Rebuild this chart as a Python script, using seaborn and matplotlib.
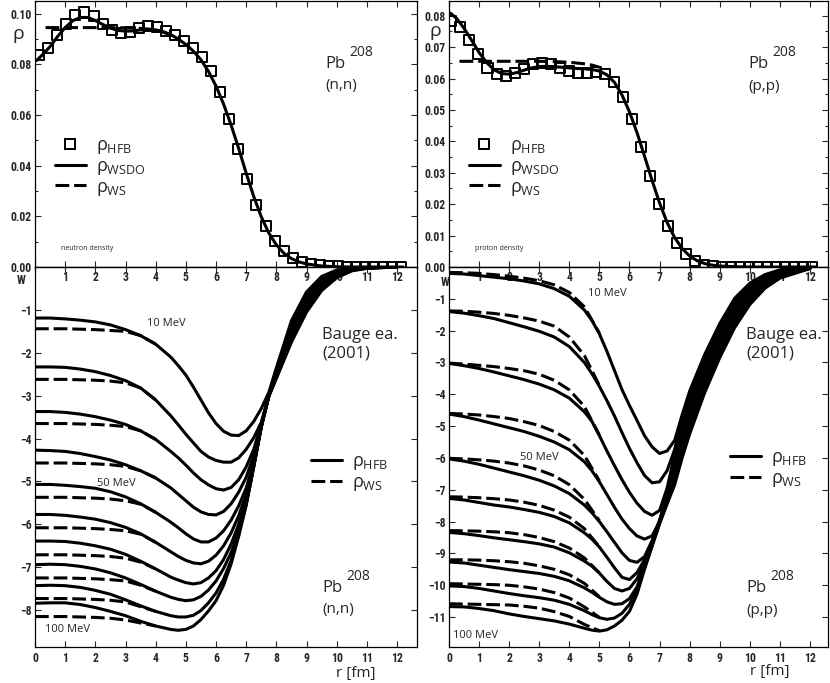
import matplotlib
matplotlib.use("Agg")
import matplotlib.pyplot as plt
from matplotlib import font_manager
from matplotlib.lines import Line2D
from matplotlib.ticker import FormatStrFormatter, MultipleLocator
import pandas as pd
import seaborn as sns

# ---------------- data ----------------
energies = [10, 20, 30, 40, 50, 60, 70, 80, 90, 100]

# radial grid (fm) for the imaginary potentials W(r)
r_w = [0, 0.5, 1, 1.5, 2, 2.5, 3, 3.5, 4, 4.5, 4.75, 5, 5.25, 5.5, 5.75, 6,
       6.25, 6.5, 6.75, 7, 7.25, 7.5, 7.75, 8, 8.5, 9, 9.5, 10, 10.5, 11, 12]

# (n,n): W with HFB density, one row per energy (10..100 MeV)
w_n_hfb = [
    [-1.19, -1.19, -1.21, -1.24, -1.28, -1.35, -1.46, -1.6, -1.8, -2.1, -2.3, -2.52, -2.8, -3.1, -3.4, -3.65, -3.83, -3.92, -3.93, -3.82, -3.6, -3.3, -2.92, -2.35, -1.25, -0.58, -0.22, -0.07, -0.02, 0.0, 0.0],
    [-2.33, -2.33, -2.34, -2.38, -2.44, -2.53, -2.65, -2.82, -3.1, -3.47, -3.68, -3.9, -4.1, -4.3, -4.43, -4.51, -4.55, -4.55, -4.45, -4.25, -3.98, -3.62, -3.0, -2.38, -1.31, -0.63, -0.26, -0.09, -0.03, 0.0, 0.0],
    [-3.37, -3.37, -3.39, -3.43, -3.49, -3.57, -3.67, -3.82, -4.02, -4.3, -4.45, -4.62, -4.8, -4.96, -5.08, -5.17, -5.2, -5.14, -4.96, -4.66, -4.25, -3.65, -3.0, -2.41, -1.36, -0.68, -0.29, -0.11, -0.04, -0.01, 0.0],
    [-4.27, -4.28, -4.3, -4.35, -4.42, -4.5, -4.61, -4.75, -4.92, -5.15, -5.3, -5.45, -5.6, -5.71, -5.77, -5.78, -5.7, -5.52, -5.25, -4.9, -4.4, -3.68, -3.0, -2.43, -1.42, -0.74, -0.33, -0.13, -0.04, -0.01, 0.0],
    [-5.07, -5.07, -5.09, -5.12, -5.16, -5.24, -5.36, -5.52, -5.72, -5.95, -6.08, -6.22, -6.34, -6.41, -6.41, -6.32, -6.15, -5.9, -5.57, -5.15, -4.55, -3.7, -3.0, -2.46, -1.47, -0.79, -0.37, -0.15, -0.05, -0.01, 0.0],
    [-5.77, -5.77, -5.79, -5.83, -5.88, -5.96, -6.07, -6.22, -6.42, -6.64, -6.75, -6.84, -6.9, -6.92, -6.86, -6.72, -6.5, -6.2, -5.8, -5.3, -4.6, -3.72, -3.0, -2.49, -1.53, -0.84, -0.4, -0.17, -0.06, -0.02, 0.0],
    [-6.39, -6.39, -6.4, -6.44, -6.5, -6.58, -6.7, -6.86, -7.04, -7.23, -7.3, -7.36, -7.39, -7.36, -7.25, -7.08, -6.82, -6.46, -6.0, -5.42, -4.62, -3.72, -3.0, -2.52, -1.58, -0.89, -0.44, -0.19, -0.07, -0.02, 0.0],
    [-6.94, -6.93, -6.94, -6.98, -7.04, -7.13, -7.25, -7.4, -7.56, -7.7, -7.75, -7.78, -7.76, -7.68, -7.53, -7.32, -7.03, -6.66, -6.15, -5.5, -4.64, -3.72, -3.0, -2.54, -1.64, -0.95, -0.48, -0.21, -0.07, -0.02, 0.0],
    [-7.43, -7.42, -7.43, -7.47, -7.54, -7.63, -7.76, -7.9, -8.03, -8.13, -8.16, -8.16, -8.12, -8.01, -7.83, -7.6, -7.28, -6.84, -6.24, -5.54, -4.65, -3.72, -3.0, -2.57, -1.69, -1.0, -0.51, -0.23, -0.08, -0.03, 0.0],
    [-7.84, -7.83, -7.83, -7.87, -7.94, -8.03, -8.13, -8.26, -8.37, -8.45, -8.47, -8.45, -8.37, -8.22, -8.02, -7.78, -7.42, -6.92, -6.28, -5.55, -4.66, -3.73, -3.02, -2.6, -1.75, -1.05, -0.55, -0.25, -0.09, -0.03, 0.0],
]
# (n,n): W with WS density (only the inner part differs)
r_ws_n = [0, 0.5, 1, 1.5, 2, 2.5, 3, 3.5, 4]
w_n_ws = [
    [-1.44, -1.44, -1.44, -1.45, -1.46, -1.48, -1.5, -1.6, -1.8],
    [-2.62, -2.62, -2.62, -2.63, -2.64, -2.66, -2.7, -2.82, -3.1],
    [-3.65, -3.65, -3.65, -3.66, -3.67, -3.69, -3.72, -3.82, -4.02],
    [-4.57, -4.57, -4.57, -4.58, -4.59, -4.61, -4.65, -4.75, -4.92],
    [-5.37, -5.37, -5.37, -5.38, -5.39, -5.41, -5.45, -5.53, -5.72],
    [-6.08, -6.08, -6.08, -6.09, -6.1, -6.12, -6.15, -6.23, -6.42],
    [-6.71, -6.71, -6.71, -6.72, -6.73, -6.75, -6.79, -6.88, -7.04],
    [-7.25, -7.25, -7.25, -7.26, -7.27, -7.29, -7.32, -7.42, -7.56],
    [-7.73, -7.73, -7.73, -7.74, -7.75, -7.77, -7.81, -7.92, -8.03],
    [-8.15, -8.15, -8.15, -8.16, -8.17, -8.19, -8.23, -8.3, -8.37],
]

# (p,p): W with HFB density
w_p_hfb = [
    [-0.2, -0.22, -0.27, -0.32, -0.37, -0.44, -0.53, -0.68, -0.92, -1.35, -1.68, -2.1, -2.65, -3.25, -3.85, -4.35, -4.82, -5.3, -5.65, -5.86, -5.78, -5.45, -4.65, -3.9, -2.75, -1.78, -0.98, -0.51, -0.24, -0.09, 0.0],
    [-1.4, -1.45, -1.53, -1.62, -1.75, -1.88, -2.02, -2.2, -2.5, -3.0, -3.35, -3.75, -4.2, -4.68, -5.2, -5.7, -6.15, -6.55, -6.78, -6.75, -6.4, -5.74, -4.76, -4.05, -2.88, -1.9, -1.08, -0.58, -0.29, -0.12, -0.01],
    [-3.03, -3.1, -3.19, -3.3, -3.42, -3.54, -3.68, -3.86, -4.12, -4.55, -4.85, -5.3, -5.78, -6.24, -6.68, -7.08, -7.42, -7.68, -7.8, -7.65, -6.95, -5.9, -4.91, -4.2, -3.02, -2.02, -1.18, -0.66, -0.34, -0.15, -0.01],
    [-4.62, -4.7, -4.81, -4.93, -5.05, -5.17, -5.32, -5.5, -5.74, -6.12, -6.4, -6.75, -7.15, -7.55, -7.92, -8.22, -8.45, -8.55, -8.45, -8.0, -7.1, -6.02, -5.07, -4.35, -3.15, -2.14, -1.29, -0.73, -0.38, -0.18, -0.02],
    [-6.03, -6.1, -6.2, -6.32, -6.44, -6.56, -6.7, -6.88, -7.12, -7.48, -7.72, -8.0, -8.32, -8.65, -8.98, -9.22, -9.28, -9.1, -8.6, -7.95, -7.2, -6.16, -5.22, -4.5, -3.28, -2.26, -1.39, -0.81, -0.43, -0.21, -0.02],
    [-7.27, -7.32, -7.4, -7.48, -7.54, -7.62, -7.71, -7.84, -8.04, -8.35, -8.55, -8.8, -9.12, -9.45, -9.75, -9.82, -9.6, -9.2, -8.65, -8.0, -7.3, -6.29, -5.38, -4.65, -3.42, -2.37, -1.49, -0.88, -0.48, -0.23, -0.03],
    [-8.34, -8.38, -8.44, -8.51, -8.57, -8.63, -8.7, -8.8, -8.98, -9.24, -9.4, -9.62, -9.88, -10.1, -10.18, -10.1, -9.8, -9.3, -8.7, -8.02, -7.35, -6.43, -5.53, -4.8, -3.55, -2.49, -1.59, -0.96, -0.53, -0.26, -0.03],
    [-9.27, -9.3, -9.37, -9.44, -9.51, -9.57, -9.63, -9.72, -9.86, -10.08, -10.22, -10.38, -10.52, -10.6, -10.58, -10.42, -10.05, -9.42, -8.74, -8.04, -7.38, -6.57, -5.69, -4.95, -3.68, -2.61, -1.7, -1.03, -0.57, -0.29, -0.04],
    [-10.02, -10.04, -10.1, -10.18, -10.26, -10.33, -10.39, -10.47, -10.6, -10.8, -10.92, -11.02, -11.07, -11.03, -10.88, -10.6, -10.15, -9.45, -8.75, -8.05, -7.4, -6.71, -5.84, -5.1, -3.82, -2.73, -1.8, -1.11, -0.62, -0.32, -0.04],
    [-10.67, -10.68, -10.73, -10.8, -10.9, -10.98, -11.05, -11.12, -11.22, -11.35, -11.41, -11.44, -11.4, -11.28, -11.1, -10.82, -10.28, -9.5, -8.78, -8.07, -7.45, -6.85, -6.0, -5.25, -3.95, -2.85, -1.9, -1.18, -0.67, -0.35, -0.05],
]
r_ws_p = [0, 0.5, 1, 1.5, 2, 2.5, 3, 3.5, 4, 4.5, 5]
w_p_ws = [
    [-0.17, -0.18, -0.2, -0.24, -0.29, -0.35, -0.43, -0.56, -0.8, -1.25, -2.08],
    [-1.38, -1.39, -1.42, -1.46, -1.52, -1.6, -1.7, -1.86, -2.2, -2.78, -3.72],
    [-3.02, -3.05, -3.09, -3.13, -3.19, -3.26, -3.37, -3.56, -3.86, -4.38, -5.28],
    [-4.6, -4.62, -4.65, -4.7, -4.76, -4.86, -4.98, -5.17, -5.44, -5.92, -6.72],
    [-6.01, -6.03, -6.06, -6.1, -6.16, -6.25, -6.38, -6.56, -6.84, -7.3, -7.97],
    [-7.22, -7.23, -7.25, -7.28, -7.32, -7.39, -7.49, -7.64, -7.86, -8.22, -8.79],
    [-8.28, -8.29, -8.3, -8.32, -8.35, -8.41, -8.5, -8.63, -8.83, -9.14, -9.61],
    [-9.2, -9.2, -9.21, -9.23, -9.26, -9.31, -9.39, -9.5, -9.67, -9.94, -10.36],
    [-9.95, -9.96, -9.97, -9.98, -10.0, -10.05, -10.12, -10.23, -10.4, -10.68, -11.01],
    [-10.58, -10.59, -10.6, -10.61, -10.62, -10.66, -10.72, -10.83, -10.98, -11.23, -11.43],
]

# densities (fm^-3)
r_hfb_n = [0.14, 0.44, 0.74, 1.04, 1.34, 1.64, 1.94, 2.24, 2.54, 2.84, 3.14, 3.44, 3.74, 4.04,
           4.34, 4.64, 4.94, 5.24, 5.54, 5.84, 6.14, 6.44, 6.74, 7.04, 7.34, 7.64, 7.94, 8.24,
           8.54, 8.84, 9.14, 9.44, 9.74, 10.04, 10.34, 10.64, 10.94, 11.24, 11.54, 11.84, 12.14]
rho_n_hfb = [.0835, .0864, .0914, .096, .0996, .1006, .0989, .096, .0936, .0924, .0929, .0942, .095, .0946,
             .0933, .0914, .0891, .0865, .0828, .0773, .069, .0585, .0467, .0349, .0243, .016, .0103, .0063,
             .0037, .002, .0011, .0006, .0003, .0002, .0001, 0, 0, 0, 0, 0, 0]
r_hfb_p = [0.08, 0.38, 0.68, 0.98, 1.28, 1.58, 1.88, 2.18, 2.48, 2.78, 3.08, 3.38, 3.68, 3.98,
           4.28, 4.58, 4.88, 5.18, 5.48, 5.78, 6.08, 6.38, 6.68, 6.98, 7.28, 7.58, 7.88, 8.18,
           8.48, 8.78, 9.08, 9.38, 9.68, 9.98, 10.28, 10.58, 10.88, 11.18, 11.48, 11.78, 12.08]
rho_p_hfb = [.0784, .0765, .0723, .0677, .0634, .0614, .0608, .0618, .0632, .0645, .065, .0645, .0634, .0625,
             .0618, .0618, .0621, .0616, .059, .0542, .0471, .0382, .029, .0202, .0131, .0077, .0041, .0018,
             .0006, .0003, .0001, 0, 0, 0, 0, 0, 0, 0, 0, 0, 0]

r_dens = [0.05, 0.25, 0.5, 0.75, 1, 1.25, 1.5, 1.75, 2, 2.25, 2.5, 2.75, 3, 3.25, 3.5, 3.75, 4, 4.25,
          4.5, 4.75, 5, 5.25, 5.5, 5.75, 6, 6.25, 6.5, 6.75, 7, 7.25, 7.5, 7.75, 8, 8.25, 8.5, 8.75,
          9, 9.5, 10, 10.5, 11, 12.2]
rho_n_wsdo = [.0815, .0838, .0870, .0910, .0945, .0972, .0985, .0985, .0973, .0957, .0943, .0934, .0931,
              .0932, .0936, .0938, .0936, .0929, .0917, .0900, .0878, .0852, .0818, .0772, .0714, .0643,
              .0560, .0468, .0370, .0278, .0198, .0134, .0087, .0054, .0033, .0020, .0012, .0004, .0001,
              0, 0, 0]
rho_p_wsdo = [.0808, .0792, .0760, .0722, .0683, .0651, .0628, .0616, .0614, .0619, .0627, .0634, .0638,
              .0639, .0638, .0636, .0634, .0632, .0631, .0629, .0624, .0612, .0588, .0548, .0494, .0428,
              .0353, .0276, .0204, .0142, .0094, .0059, .0035, .0020, .0011, .0006, .0003, .0001, 0,
              0, 0, 0]
r_ws_dens_n = [0.35, 0.5, 1, 1.5, 2, 2.5, 3, 3.5, 4, 4.5]
rho_n_ws = [.0945, .0945, .0945, .0945, .0945, .0945, .0944, .0942, .0936, .0917]
r_ws_dens_p = [0.35, 0.5, 1, 1.5, 2, 2.5, 3, 3.5, 4, 4.5, 4.75, 5]
rho_p_ws = [.0655, .0655, .0655, .0655, .0655, .0655, .0655, .0654, .0652, .0647, .0643, .0636]

# ---------------- style ----------------
sns.set_theme(style="ticks")
names = {f.name for f in font_manager.fontManager.ttflist}
tick_font = next((f for f in ["Liberation Sans Narrow", "Roboto Condensed", "DejaVu Sans"] if f in names),
                 "DejaVu Sans")
txt_font = "Open Sans" if "Open Sans" in names else "DejaVu Sans"
plt.rcParams["font.family"] = [tick_font, "DejaVu Sans"]
plt.rcParams["mathtext.fontset"] = "custom"
plt.rcParams["mathtext.rm"] = txt_font
plt.rcParams["mathtext.it"] = txt_font
plt.rcParams["mathtext.sf"] = txt_font

LW = 2.2
DASH = (4.5, 1.6)

fig = plt.figure(figsize=(8.3, 6.83), dpi=100)
W_, H_ = 830, 683


def rect(x0, y0, x1, y1):
    return [x0 / W_, 1 - y1 / H_, (x1 - x0) / W_, (y1 - y0) / H_]


ax_nt = fig.add_axes(rect(35, 1, 417, 267))
ax_nb = fig.add_axes(rect(35, 267, 417, 647))
ax_pt = fig.add_axes(rect(449, 1, 828, 267))
ax_pb = fig.add_axes(rect(449, 267, 828, 647))


def curves_frame(r, curves, kind):
    parts = [pd.DataFrame({"r": r, "W": w, "E": e, "kind": kind}) for e, w in zip(energies, curves)]
    return pd.concat(parts, ignore_index=True)


def draw_potential(ax, hfb, r_ws, ws):
    df = pd.concat([curves_frame(r_w, hfb, "HFB"), curves_frame(r_ws, ws, "WS")], ignore_index=True)
    sns.lineplot(data=df, x="r", y="W", units="E", style="kind", estimator=None, color="black",
                 dashes={"HFB": "", "WS": DASH}, lw=LW, legend=False, ax=ax)


def draw_density(ax, r_sq, rho_sq, rho_line, r_ws, rho_ws):
    sns.lineplot(x=r_dens, y=rho_line, color="black", lw=LW, ax=ax)
    sns.lineplot(x=r_ws, y=rho_ws, color="black", lw=LW, ls=(0, DASH), ax=ax)
    sns.scatterplot(x=r_sq, y=rho_sq, marker="s", s=52, facecolor="none", edgecolor="black",
                    linewidth=1.4, zorder=5, ax=ax)


draw_density(ax_nt, r_hfb_n, rho_n_hfb, rho_n_wsdo, r_ws_dens_n, rho_n_ws)
draw_density(ax_pt, r_hfb_p, rho_p_hfb, rho_p_wsdo, r_ws_dens_p, rho_p_ws)
draw_potential(ax_nb, w_n_hfb, r_ws_n, w_n_ws)
draw_potential(ax_pb, w_p_hfb, r_ws_p, w_p_ws)

ax_nt.set_ylim(0, 0.105)
ax_pt.set_ylim(0, 0.0847)
ax_nb.set_ylim(-8.86, 0)
ax_pb.set_ylim(-11.94, 0)
for ax, xr in [(ax_nt, 12.66), (ax_nb, 12.66), (ax_pt, 12.6), (ax_pb, 12.6)]:
    ax.set_xlim(0, xr)
    ax.set_xticks(range(0, 13))
    ax.set_xlabel("")
    ax.set_ylabel("")
    ax.tick_params(which="both", direction="in", top=True, right=True, width=0.8,
                   labelsize=8.5, pad=2.5)
    ax.tick_params(which="major", length=4)
    ax.tick_params(which="minor", length=2.5)
    for sp in ax.spines.values():
        sp.set_linewidth(0.9)
        sp.set_color("black")

ax_nt.set_yticks([0, 0.02, 0.04, 0.06, 0.08, 0.10])
ax_nt.yaxis.set_minor_locator(MultipleLocator(0.01))
ax_pt.set_yticks([0, 0.01, 0.02, 0.03, 0.04, 0.05, 0.06, 0.07, 0.08])
ax_pt.yaxis.set_minor_locator(MultipleLocator(0.005))
for ax in (ax_nt, ax_pt):
    ax.yaxis.set_major_formatter(FormatStrFormatter("%.2f"))
    ax.tick_params(axis="x", labelbottom=False)
ax_nb.set_yticks(range(-8, 0))
ax_pb.set_yticks(range(-11, 0))
secs = []
for ax in (ax_nb, ax_pb):
    ax.tick_params(axis="x", pad=3.5)
    sec = ax.secondary_xaxis("top")
    sec.set_xticks(range(1, 13))
    sec.tick_params(axis="x", direction="in", length=0, pad=-12.5, labelsize=8.5)
    sec.spines["top"].set_linewidth(0.9)
    secs.append(sec)

for ax in [ax_nt, ax_nb, ax_pt, ax_pb] + secs:
    for lbl in ax.get_xticklabels() + ax.get_yticklabels():
        lbl.set_fontweight("bold")

# ---------------- legends ----------------
sq = Line2D([], [], marker="s", ls="none", mfc="none", mec="black", mew=1.4, ms=7.5)
solid = Line2D([], [], color="black", lw=LW)
dashed = Line2D([], [], color="black", lw=LW, ls=(0, DASH))
leg_kw = dict(frameon=False, prop={"family": txt_font, "size": 13}, handlelength=1.7,
              handletextpad=0.55, borderpad=0, borderaxespad=0, labelspacing=0.05,
              loc="upper left", bbox_transform=fig.transFigure)
lab_hfb = r"ρ$_{\rm HFB}$"
lab_wsdo = r"ρ$_{\rm WSDO}$"
lab_ws = r"ρ$_{\rm WS}$"
ax_nt.legend([sq, solid, dashed], [lab_hfb, lab_wsdo, lab_ws],
             bbox_to_anchor=(55 / W_, 1 - 136 / H_), **leg_kw)
ax_pt.legend([sq, solid, dashed], [lab_hfb, lab_wsdo, lab_ws],
             bbox_to_anchor=(469 / W_, 1 - 136 / H_), **leg_kw)
ax_nb.legend([solid, dashed], [lab_hfb, lab_ws],
             bbox_to_anchor=(311 / W_, 1 - 452 / H_), **leg_kw)
ax_pb.legend([solid, dashed], [lab_hfb, lab_ws],
             bbox_to_anchor=(730 / W_, 1 - 448 / H_), **leg_kw)


# ---------------- annotations ----------------
def ftext(x, y, s, size, ha="left", family=None, **kw):
    fig.text(x / W_, 1 - y / H_, s, fontsize=size, ha=ha, va="center",
             family=family or txt_font, **kw)


for x0, y0, reac in [(325, 64, "(n,n)"), (748, 64, "(p,p)"), (322, 588, "(n,n)"), (746, 588, "(p,p)")]:
    ftext(x0, y0, "Pb", 12)
    ftext(x0 + 24, y0 - 11, "208", 10)
    ftext(x0, y0 + 22, reac, 11)

for x0, y0 in [(322, 335), (746, 335)]:
    ftext(x0, y0, "Bauge ea.", 12)
    ftext(x0, y0 + 19, "(2001)", 12)

ftext(18, 34, "ρ", 14, ha="center")
ftext(435, 31, "ρ", 14, ha="center")
ftext(21, 281, "W", 8.5, ha="center", family=tick_font, fontweight="bold")
ftext(445, 282, "W", 8.5, ha="center", family=tick_font, fontweight="bold")
ftext(61, 249, "neutron density", 5)
ftext(475, 249, "proton density", 5)

ftext(147, 323, "10 MeV", 8)
ftext(97, 483, "50 MeV", 8)
ftext(45, 629, "100 MeV", 8)
ftext(588, 293, "10 MeV", 8)
ftext(520, 458, "50 MeV", 8)
ftext(453, 635, "100 MeV", 8)

ftext(356, 673, "r [fm]", 11, ha="center")
ftext(770, 672, "r [fm]", 11, ha="center")

fig.savefig("out.png", dpi=100)
